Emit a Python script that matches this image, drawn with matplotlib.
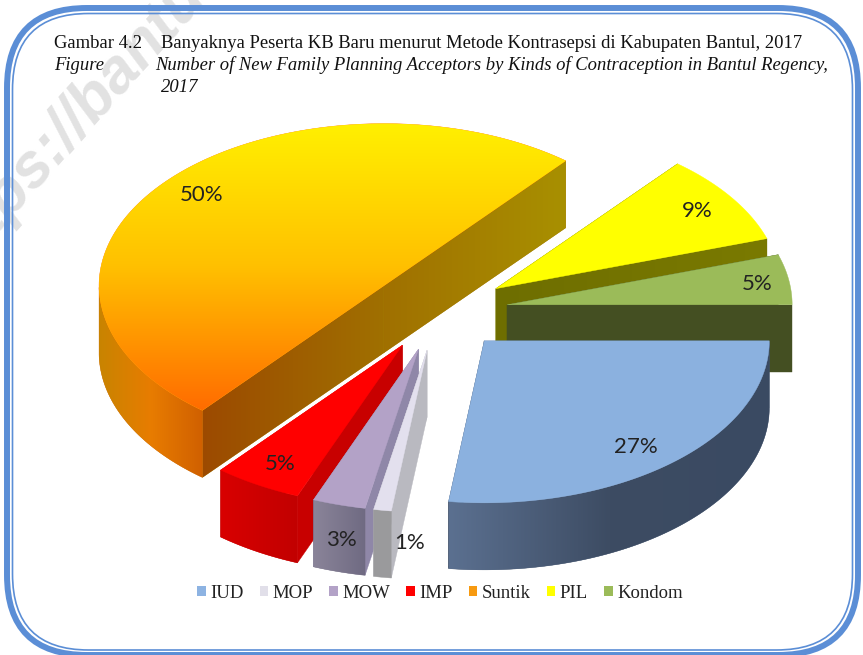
import matplotlib
matplotlib.use('Agg')
import matplotlib.pyplot as plt
import numpy as np
from matplotlib.colors import LinearSegmentedColormap
from matplotlib.patches import FancyBboxPatch, Patch, Polygon

# data, in pie order (clockwise from 3 o'clock)
methods = ['IUD', 'MOP', 'MOW', 'IMP', 'Suntik', 'PIL', 'Kondom']
percent = [27, 1, 3, 5, 50, 9, 5]
pct_labels = ['27%', '1%', '3%', '5%', '50%', '9%', '5%']
legend_colors = ['#8db3e2', '#e1dfe9', '#b3a2c7', '#ff0000', '#f79a10', '#ffff00', '#9bbb59']

title_id = 'Banyaknya Peserta KB Baru menurut Metode Kontrasepsi di Kabupaten Bantul, 2017'
title_en = 'Number of New Family Planning Acceptors by Kinds of Contraception in Bantul Regency,'

# pie geometry in pixels
cx, cy = 438, 311
rx, ry = 285, 162
explode = 70
depth = 67

# top face, arc wall and radial wall colours
top_cols = {'IUD': ['#8bb1df'], 'MOP': ['#e3e0ee'], 'MOW': ['#b3a2c7'], 'IMP': ['#ff0000'],
            'Suntik': ['#fff000', '#ffc000', '#ff6c00'], 'PIL': ['#ffff00'], 'Kondom': ['#9bbb59']}
arc_cols = {'IUD': ['#5b7090', '#3d4c63', '#3a4a62'], 'MOP': ['#9a9a9c'], 'MOW': ['#8a8499', '#6f6a82'],
            'IMP': ['#d80000', '#c20000'], 'Suntik': ['#c88400', '#e87c00', '#d06000'],
            'PIL': ['#6e6e00'], 'Kondom': ['#444f22']}
side_cols = {'IUD': ['#3a4a62'], 'MOP': ['#b9b9c0'], 'MOW': ['#8f87a8'], 'IMP': ['#c80000'],
             'Suntik': ['#9c4a00', '#a07000', '#a89000'], 'PIL': ['#6e6e00', '#7a7a00'], 'Kondom': ['#444f22']}
label_pos = {'IUD': (636, 447), 'MOP': (410, 543), 'MOW': (341, 540), 'IMP': (280, 464),
             'Suntik': (202, 195), 'PIL': (697, 211), 'Kondom': (757, 284)}

fig = plt.figure(figsize=(8.63, 6.55), dpi=100)
ax = fig.add_axes([0, 0, 1, 1])
ax.axis('off')


def fill_grad(pts, cols, vertical=False, z=2, box=None):
    # polygon filled with a gradient, drawn as a clipped image
    pts = np.array(pts)
    poly = Polygon(pts, closed=True, fc=cols[0], ec=cols[-1], lw=0.3, zorder=z)
    ax.add_patch(poly)
    if len(cols) == 1:
        return
    cmap = LinearSegmentedColormap.from_list('g', cols)
    g = np.linspace(0, 1, 256)
    g = g.reshape(-1, 1) if vertical else g.reshape(1, -1)
    if box is None:
        box = np.array(pts)
    x0, y0 = np.min(box, axis=0)
    x1, y1 = np.max(box, axis=0)
    im = ax.imshow(g, cmap=cmap, extent=(x0, x1, y1, y0), aspect='auto', zorder=z, interpolation='bilinear')
    im.set_clip_path(poly)


fracs = np.array(percent) / sum(percent)
edges = np.concatenate([[0], np.cumsum(fracs)]) * 2 * np.pi
# back slices first, so the front ones paint over them
order = ['Suntik', 'PIL', 'Kondom', 'IMP', 'MOW', 'MOP', 'IUD']

z = 2
for name in order:
    i = methods.index(name)
    t0, t1 = edges[i], edges[i + 1]
    mid = (t0 + t1) / 2
    ax0 = cx + explode * np.cos(mid)
    ay0 = cy + explode * ry / rx * np.sin(mid)
    t = np.linspace(t0, t1, 200)
    ex = ax0 + rx * np.cos(t)
    ey = ay0 + ry * np.sin(t)
    arc = np.column_stack([ex, ey])
    down = np.array([0, depth])
    apex = np.array([ax0, ay0])

    # radial walls share one gradient box, so they join up at the apex
    wall_box = np.array([apex, arc[0], arc[-1], arc[0] + down, arc[-1] + down])
    fill_grad([apex, arc[0], arc[0] + down, apex + down], side_cols[name], z=z, box=wall_box)
    z += 1
    fill_grad([apex, arc[-1], arc[-1] + down, apex + down], side_cols[name], z=z, box=wall_box)
    z += 1
    # outer wall, only the part turned to the viewer
    front = arc[np.sin(t) > 0]
    if len(front) > 1:
        fill_grad(np.vstack([front, (front + down)[::-1]]), arc_cols[name], z=z)
        z += 1
    # top face
    fill_grad(np.vstack([apex, arc]), top_cols[name], vertical=True, z=z)
    z += 1

for name, lab in zip(methods, pct_labels):
    x, y = label_pos[name]
    ax.text(x, y, lab, fontsize=16, family='Lato', color='#222222', ha='center', va='center', zorder=100)

# titles
ts = 13.4
ax.text(54, 44, 'Gambar 4.2', fontsize=ts, family='Liberation Serif', va='center', color='#111111', zorder=100)
ax.text(161, 44, title_id, fontsize=ts, family='Liberation Serif', va='center', color='#111111', zorder=100)
ax.text(54, 65, 'Figure', fontsize=ts, family='Liberation Serif', style='italic', va='center', color='#111111', zorder=100)
ax.text(155, 65, title_en, fontsize=ts, family='Liberation Serif', style='italic', va='center', color='#111111', zorder=100)
ax.text(161, 88, '2017', fontsize=ts, family='Liberation Serif', style='italic', va='center', color='#111111', zorder=100)

# watermark
ax.text(-45, 279, 'https://bantulkab.bps.go.id', fontsize=45, family='Liberation Sans', weight='bold', style='italic',
        color='#e2e2e2', rotation=48, rotation_mode='anchor', ha='left', va='baseline', zorder=0, clip_on=True)

# frame
outer = FancyBboxPatch((7, 8), 851, 647, boxstyle='round,pad=0,rounding_size=80', fc='none', ec='#5b8ed6', lw=4.3, zorder=90)
inner = FancyBboxPatch((12.5, 13.5), 840, 636.5, boxstyle='round,pad=0,rounding_size=76', fc='none', ec='#5b8ed6', lw=1.2, zorder=90)
ax.add_patch(outer)
ax.add_patch(inner)

handles = [Patch(fc=c, ec='none', label=m) for c, m in zip(legend_colors, methods)]
ax.legend(handles=handles, ncol=7, frameon=False, loc='center', bbox_to_anchor=(440, 593),
          bbox_transform=ax.transData, prop={'family': 'Liberation Serif', 'size': 13.5},
          handlelength=0.45, handleheight=0.45, handletextpad=0.25, columnspacing=0.85, labelcolor='#222222')

ax.set_xlim(0, 863)
ax.set_ylim(655, 0)
fig.savefig('out.png', dpi=100)
